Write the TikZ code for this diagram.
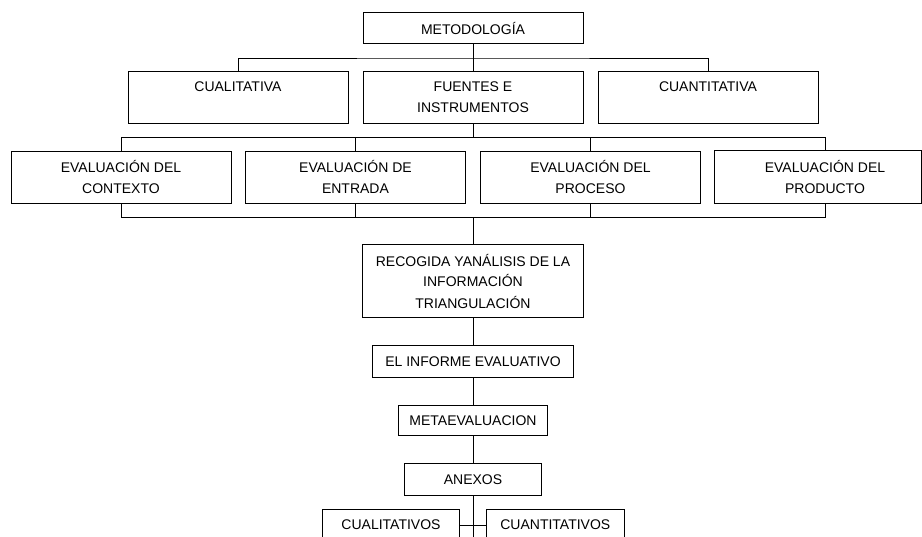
\documentclass[tikz,border=0pt]{standalone}
\usepackage{fontspec}
\setmainfont{Liberation Sans}
\begin{document}
\begin{tikzpicture}[x=1pt,y=-1pt,
  line width=0.9pt,
  box/.style={draw, inner sep=0pt, align=center, font=\fontsize{14}{21}\selectfont},
  plain/.style={inner sep=0pt, align=center, font=\fontsize{14}{21}\selectfont},
  wide/.style={minimum width=220pt, minimum height=52pt}]
\path[use as bounding box, clip] (0,0) rectangle (922,537);
% level 0
\node[box, minimum width=220pt, minimum height=31.3pt] (meto) at (473,28.3) {METODOLOGÍA};
% level 1
\node[box, wide] (cual) at (238,97) {CUALITATIVA\\\mbox{}};
\node[box, wide] (fuen) at (473,97) {FUENTES E\\INSTRUMENTOS};
\node[box, wide] (cuan) at (708,97) {CUANTITATIVA\\\mbox{}};
% level 2
\node[box, wide] (p1) at (121,177) {EVALUACIÓN DEL\\CONTEXTO};
\node[box, wide] (p2) at (355.5,177) {EVALUACIÓN DE\\ENTRADA};
\node[box, wide] (p3) at (590.5,177) {EVALUACIÓN DEL\\PROCESO};
\node[plain, wide] (p4) at (825,177) {EVALUACIÓN DEL\\PRODUCTO};
\coordinate (redge) at (921.5,177);
\draw (p4.north west) rectangle (p4.south -| redge);
% chain
\node[box, minimum width=221.3pt, minimum height=73.4pt] (reco) at (473,281) {RECOGIDA YANÁLISIS DE LA\\INFORMACIÓN\\TRIANGULACIÓN};
\node[box, minimum width=201.3pt, minimum height=32.3pt] (info) at (473,361.2) {EL INFORME EVALUATIVO};
\node[box, minimum width=148.7pt, minimum height=30pt] (meta) at (473,420.5) {METAEVALUACION};
\node[box, minimum width=136.7pt, minimum height=31.7pt] (anex) at (473,479.2) {ANEXOS};
\node[box, minimum width=136.6pt, minimum height=31.4pt] (qual) at (391,525) {CUALITATIVOS};
\node[box, minimum width=137.3pt, minimum height=31.4pt] (quan) at (555.3,525) {CUANTITATIVOS};
% bus coordinates
\coordinate (b1) at (473,58);
\coordinate (b2) at (473,137.5);
\coordinate (b3) at (473,217.3);
\coordinate (bend) at (473,545);
\coordinate (bq) at (473,525);
% connectors
\draw (meto.south) -- (fuen.north);
\draw (cual.north) |- (b1) -| (cuan.north);
\draw (fuen.south) -- (b2);
\draw (p1.north) |- (b2) -| (p4.north);
\draw (p2.north) -- (p2.north |- b2);
\draw (p3.north) -- (p3.north |- b2);
\draw (p1.south) |- (b3) -| (p4.south);
\draw (p2.south) -- (p2.south |- b3);
\draw (p3.south) -- (p3.south |- b3);
\draw (b3) -- (reco.north);
\draw (reco.south) -- (info.north);
\draw (info.south) -- (meta.north);
\draw (meta.south) -- (anex.north);
\draw (anex.south) -- (bend);
\draw (qual.east |- bq) -- (quan.west |- bq);
\end{tikzpicture}
\end{document}
